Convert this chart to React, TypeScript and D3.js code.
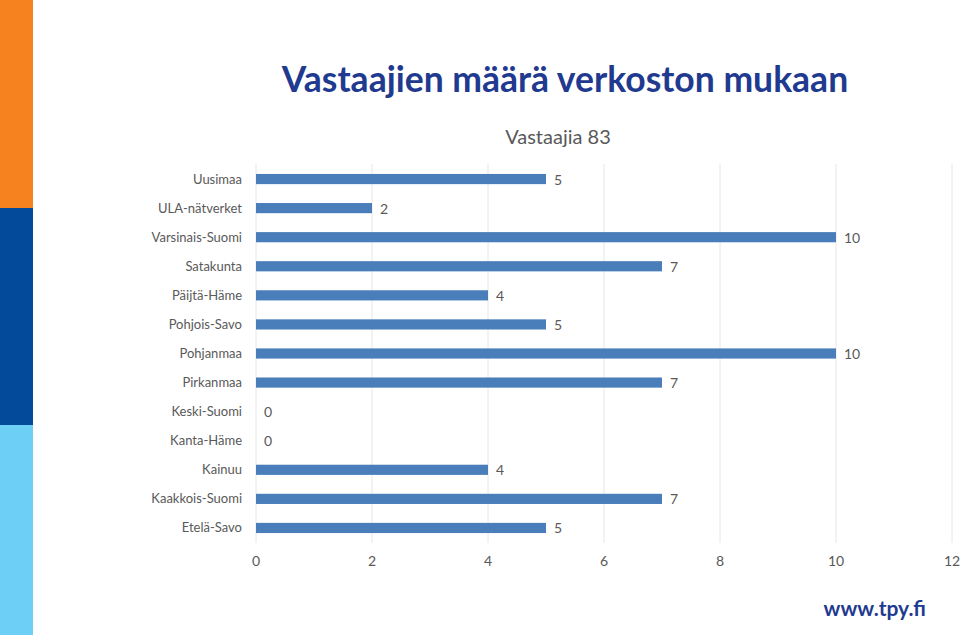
import React from "react";
import * as d3 from "d3";

const categories = [
  "Uusimaa",
  "ULA-nätverket",
  "Varsinais-Suomi",
  "Satakunta",
  "Päijtä-Häme",
  "Pohjois-Savo",
  "Pohjanmaa",
  "Pirkanmaa",
  "Keski-Suomi",
  "Kanta-Häme",
  "Kainuu",
  "Kaakkois-Suomi",
  "Etelä-Savo",
];
const values = [5, 2, 10, 7, 4, 5, 10, 7, 0, 0, 4, 7, 5];
const xTicks = [0, 2, 4, 6, 8, 10, 12];

const W = 960;
const H = 635;
const FONT = "Lato, 'Open Sans', sans-serif";

export default function App() {
  const x = d3.scaleLinear().domain([0, 12]).range([256, 952]);
  const y = d3
    .scaleBand<string>()
    .domain(categories)
    .range([164.5, 542.5])
    .paddingInner(0.65)
    .paddingOuter(0.325);
  const barColor = "#4a7ebb";
  const textGray = "#595959";
  return (
    <svg
      width={W}
      height={H}
      style={{ position: "absolute", left: 0, top: 0, background: "#fff" }}
    >
      <rect x={0} y={0} width={33} height={208} fill="#f5821f" />
      <rect x={0} y={208} width={33} height={217} fill="#034a9b" />
      <rect x={0} y={425} width={33} height={210} fill="#6dcff6" />

      <text
        x={565}
        y={92}
        textAnchor="middle"
        fontFamily={FONT}
        fontWeight="bold"
        fontSize={35.5}
        fill="#1f3a8f"
      >
        Vastaajien määrä verkoston mukaan
      </text>
      <text
        x={558}
        y={144}
        textAnchor="middle"
        fontFamily={FONT}
        fontSize={20}
        fill={textGray}
      >
        Vastaajia 83
      </text>

      {xTicks.map((t) => (
        <line
          key={"g" + t}
          x1={x(t)}
          x2={x(t)}
          y1={164}
          y2={543}
          stroke="#e6e6e6"
          strokeWidth={1}
        />
      ))}
      {xTicks.map((t) => (
        <text
          key={"t" + t}
          x={x(t)}
          y={566}
          textAnchor="middle"
          fontFamily={FONT}
          fontSize={14}
          fill={textGray}
        >
          {t}
        </text>
      ))}

      {categories.map((c, i) => {
        const yy = y(c)!;
        const bw = y.bandwidth();
        const cy = yy + bw / 2;
        return (
          <g key={c}>
            <text
              x={242}
              y={cy + 4.5}
              textAnchor="end"
              fontFamily={FONT}
              fontSize={13}
              fill={textGray}
            >
              {c}
            </text>
            {values[i] > 0 && (
              <rect
                x={x(0)}
                y={yy}
                width={x(values[i]) - x(0)}
                height={bw}
                fill={barColor}
              />
            )}
            <text
              x={x(values[i]) + 8}
              y={cy + 5.5}
              fontFamily={FONT}
              fontSize={14}
              fill={textGray}
            >
              {values[i]}
            </text>
          </g>
        );
      })}

      <text
        x={926}
        y={616}
        textAnchor="end"
        fontFamily={FONT}
        fontWeight="bold"
        fontSize={21}
        fill="#1f3a8f"
      >
        www.tpy.fi
      </text>
    </svg>
  );
}
